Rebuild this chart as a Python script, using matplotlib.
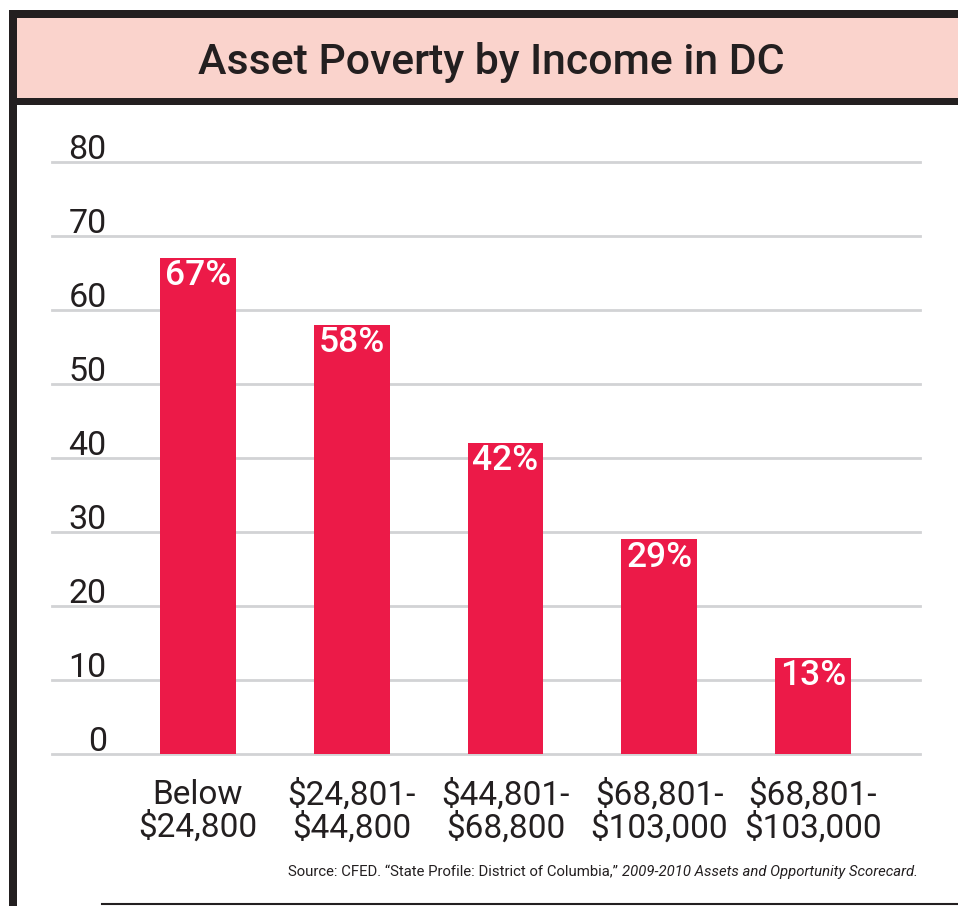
import matplotlib
matplotlib.use("Agg")
import matplotlib.pyplot as plt
from matplotlib.patches import Rectangle
from matplotlib.lines import Line2D

# data
categories = ["Below\n$24,800", "$24,801-\n$44,800", "$44,801-\n$68,800",
              "$68,801-\n$103,000", "$68,801-\n$103,000"]
values = [67, 58, 42, 29, 13]
yticks = [0, 10, 20, 30, 40, 50, 60, 70, 80]
title = "Asset Poverty by Income in DC"
source_plain = "Source: CFED. \u201cState Profile: District of Columbia,\u201d "
source_italic = "2009-2010 Assets and Opportunity Scorecard."

dark = "#231f20"
pink = "#fad3cc"
red = "#ec1a48"
grid = "#d2d3d5"
rob = ["Roboto", "DejaVu Sans"]

W, H = 958, 906
fig = plt.figure(figsize=(W / 100, H / 100), dpi=100)


def fx(px):
    return px / W


def fy(py):
    return 1 - py / H


def box(x0, y0, x1, y1, color):
    fig.add_artist(Rectangle((fx(x0), fy(y1)), fx(x1) - fx(x0), fy(y0) - fy(y1),
                             transform=fig.transFigure, facecolor=color, lw=0, zorder=0))


# frame and title band
box(17, 18, 958, 98, pink)
box(9, 10, 958, 18, dark)
box(17, 98, 958, 105, dark)
box(9, 10, 17, 906, dark)
fig.add_artist(Line2D([fx(102), 1], [fy(904), fy(904)], transform=fig.transFigure,
                      color=dark, lw=1.5))

fig.text(fx(491), fy(74), title, ha="center", va="baseline", fontsize=30.8,
         fontweight="medium", color=dark, family=rob)

# chart
ax = fig.add_axes([fx(52), fy(754), fx(920) - fx(52), fy(161.7) - fy(754)])
x = list(range(len(values)))
ax.set_xlim(-0.9496, 4.696)
ax.set_ylim(0, 80)
for s in ax.spines.values():
    s.set_visible(False)
for v in yticks:
    ax.axhline(v, color=grid, lw=2, zorder=1, clip_on=False)
    ax.text(0.063, v + 0.35, str(v), transform=ax.get_yaxis_transform(), ha="right",
            va="baseline", fontsize=24.5, fontweight="normal", color=dark, family=rob)
ax.set_yticks([])

ax.bar(x, values, width=0.494, color=red, zorder=3)
for i, v in zip(x, values):
    ax.annotate(f"{v}%", (i, v), xytext=(0, -1), textcoords="offset points",
                ha="center", va="top", color="white", fontsize=25.5,
                fontweight="medium", family=rob, zorder=4)

ax.set_xticks(x, categories)
ax.tick_params(axis="x", length=0, pad=18, labelsize=24, labelcolor=dark)
for t in ax.get_xticklabels():
    t.set_family(rob)
    t.set_fontweight("normal")
    t.set_linespacing(1.02)

# source line: italic part right-aligned, plain part placed just before it
it = fig.text(fx(918), fy(876), source_italic, ha="right", va="baseline", fontsize=10.7,
              style="italic", color=dark, family=rob)
r = fig.canvas.get_renderer()
bb = it.get_window_extent(renderer=r)
fig.text(bb.x0 / W, fy(876), source_plain, ha="right", va="baseline", fontsize=10.7,
         color=dark, family=rob)

fig.savefig("out.png", dpi=100)
